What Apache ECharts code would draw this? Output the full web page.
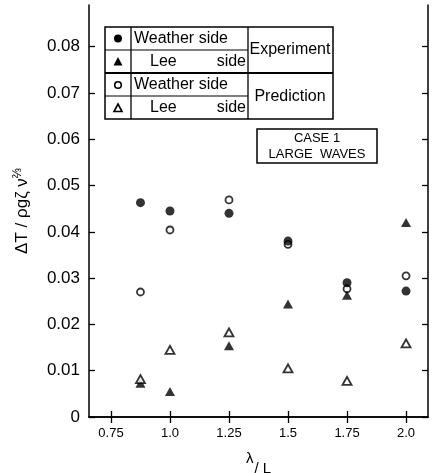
<!DOCTYPE html>
<html><head><meta charset="utf-8">
<script src="https://cdn.jsdelivr.net/npm/echarts@6/dist/echarts.min.js"></script>
<style>html,body{margin:0;padding:0;background:#fff}#c{width:441px;height:473px}</style>
</head><body><div id="c"></div>
<script>
const xValues = [0.875, 1.0, 1.25, 1.5, 1.75, 2.0];
const weatherExp  = [0.0463, 0.0445, 0.0440, 0.0380, 0.0290, 0.0272];
const leeExp      = [0.0073, 0.0055, 0.0154, 0.0244, 0.0263, 0.0420];
const weatherPred = [0.0270, 0.0404, 0.0469, 0.0373, 0.0277, 0.0305];
const leePred     = [0.0082, 0.0145, 0.0183, 0.0105, 0.0078, 0.0159];
const xTicks = [0.75, 1.0, 1.25, 1.5, 1.75, 2.0];
const xTickLabels = ['0.75', '1.0', '1.25', '1.5', '1.75', '2.0'];
const yTicks = [0, 0.01, 0.02, 0.03, 0.04, 0.05, 0.06, 0.07, 0.08];
const yTickLabels = ['0', '0.01', '0.02', '0.03', '0.04', '0.05', '0.06', '0.07', '0.08'];

const FONT = 'Liberation Sans';
const INK = '#000';
function lab(ticks, labels) {
  return v => { const i = ticks.findIndex(t => Math.abs(t - v) < 1e-6); return i < 0 ? '' : labels[i]; };
}
const pairs = arr => xValues.map((x, i) => [x, arr[i]]);

const chart = echarts.init(document.getElementById('c'), null, {renderer: 'canvas'});
const axisLine = {show: true, lineStyle: {color: INK, width: 1.5}};
const xMin = 0.657, xMax = 2.093, yMin = 0, yMax = 0.089;
chart.setOption({
  animation: false,
  backgroundColor: '#fff',
  grid: {left: 89, right: 13, top: 5, bottom: 56, containLabel: false, outerBoundsMode: 'none'},
  xAxis: [{
    type: 'value', min: xMin, max: xMax, position: 'bottom',
    axisLine: axisLine, splitLine: {show: false},
    axisTick: {show: true, inside: true, length: 6, customValues: xTicks, lineStyle: {color: INK, width: 1.3}},
    axisLabel: {customValues: xTicks, formatter: lab(xTicks, xTickLabels), color: INK, fontFamily: FONT, fontSize: 13, margin: 10},
    name: '{a|λ}{b|/ L}', nameLocation: 'middle', nameGap: 34,
    nameTextStyle: {rich: {
      a: {fontFamily: FONT, fontSize: 15, color: INK, verticalAlign: 'top', padding: [0, 1, 8, 0]},
      b: {fontFamily: FONT, fontSize: 15, color: INK, verticalAlign: 'bottom', padding: [10, 0, 0, 0]}
    }}
  }, {
    type: 'value', min: xMin, max: xMax, position: 'top',
    axisLine: axisLine, splitLine: {show: false},
    axisTick: {show: true, inside: true, length: 6, customValues: xTicks, lineStyle: {color: INK, width: 1.3}},
    axisLabel: {show: false}
  }],
  yAxis: [{
    type: 'value', min: yMin, max: yMax, position: 'left',
    axisLine: axisLine, splitLine: {show: false},
    axisTick: {show: true, inside: true, length: 6, customValues: yTicks, lineStyle: {color: INK, width: 1.3}},
    axisLabel: {customValues: yTicks, formatter: lab(yTicks, yTickLabels), color: INK, fontFamily: FONT, fontSize: 17, margin: 9},
    name: '{a|ΔT / ρgζ ν}{s|⅔}', nameLocation: 'middle', nameRotate: 90, nameGap: 57,
    nameTextStyle: {rich: {
      a: {fontFamily: FONT, fontSize: 17, color: INK},
      s: {fontFamily: FONT, fontSize: 12, color: INK, verticalAlign: 'top', padding: [0, 0, 8, 0]}
    }}
  }, {
    type: 'value', min: yMin, max: yMax, position: 'right',
    axisLine: axisLine, splitLine: {show: false},
    axisTick: {show: true, inside: true, length: 6, customValues: yTicks, lineStyle: {color: INK, width: 1.3}},
    axisLabel: {show: false}
  }],
  series: [
    {name: 'Weather side (Experiment)', type: 'scatter', data: pairs(weatherExp), symbol: 'circle', symbolSize: 9,
     itemStyle: {color: INK}, z: 3},
    {name: 'Lee side (Experiment)', type: 'scatter', data: pairs(leeExp), symbol: 'triangle', symbolSize: [10, 9],
     itemStyle: {color: INK}, z: 3},
    {name: 'Weather side (Prediction)', type: 'scatter', data: pairs(weatherPred), symbol: 'circle', symbolSize: 7,
     itemStyle: {color: '#fff', borderColor: INK, borderWidth: 1.8}, z: 2},
    {name: 'Lee side (Prediction)', type: 'scatter', data: pairs(leePred), symbol: 'triangle', symbolSize: [9, 8],
     itemStyle: {color: '#fff', borderColor: INK, borderWidth: 1.8}, z: 4}
  ],
  graphic: [
    // legend table
    {type: 'rect', shape: {x: 105, y: 27, width: 228, height: 92}, style: {fill: '#fff', stroke: INK, lineWidth: 1.5}, z: 10},
    {type: 'line', shape: {x1: 131, y1: 27, x2: 131, y2: 119}, style: {stroke: INK, lineWidth: 1.3}, z: 11},
    {type: 'line', shape: {x1: 248, y1: 27, x2: 248, y2: 119}, style: {stroke: INK, lineWidth: 1.3}, z: 11},
    {type: 'line', shape: {x1: 105, y1: 50, x2: 248, y2: 50}, style: {stroke: INK, lineWidth: 1.2}, z: 11},
    {type: 'line', shape: {x1: 105, y1: 73, x2: 333, y2: 73}, style: {stroke: INK, lineWidth: 1.8}, z: 11},
    {type: 'line', shape: {x1: 105, y1: 96, x2: 248, y2: 96}, style: {stroke: INK, lineWidth: 1.2}, z: 11},
    {type: 'circle', shape: {cx: 118, cy: 38.5, r: 4}, style: {fill: INK}, z: 11},
    {type: 'polygon', shape: {points: [[118, 57], [122.5, 65.5], [113.5, 65.5]]}, style: {fill: INK}, z: 11},
    {type: 'circle', shape: {cx: 118, cy: 85, r: 3.3}, style: {fill: '#fff', stroke: INK, lineWidth: 1.6}, z: 11},
    {type: 'polygon', shape: {points: [[118, 104], [122, 111.5], [114, 111.5]]}, style: {fill: '#fff', stroke: INK, lineWidth: 1.6}, z: 11},
    {type: 'text', style: {x: 134, y: 38.5, text: 'Weather side', font: '16px "Liberation Sans"', fill: INK, verticalAlign: 'middle'}, z: 11},
    {type: 'text', style: {x: 150, y: 62, text: 'Lee', font: '16px "Liberation Sans"', fill: INK, verticalAlign: 'middle'}, z: 11},
    {type: 'text', style: {x: 246, y: 62, text: 'side', font: '16px "Liberation Sans"', fill: INK, verticalAlign: 'middle', align: 'right'}, z: 11},
    {type: 'text', style: {x: 134, y: 85, text: 'Weather side', font: '16px "Liberation Sans"', fill: INK, verticalAlign: 'middle'}, z: 11},
    {type: 'text', style: {x: 150, y: 108, text: 'Lee', font: '16px "Liberation Sans"', fill: INK, verticalAlign: 'middle'}, z: 11},
    {type: 'text', style: {x: 246, y: 108, text: 'side', font: '16px "Liberation Sans"', fill: INK, verticalAlign: 'middle', align: 'right'}, z: 11},
    {type: 'text', style: {x: 290, y: 50, text: 'Experiment', font: '16px "Liberation Sans"', fill: INK, verticalAlign: 'middle', align: 'center'}, z: 11},
    {type: 'text', style: {x: 290, y: 97, text: 'Prediction', font: '16px "Liberation Sans"', fill: INK, verticalAlign: 'middle', align: 'center'}, z: 11},
    // case box
    {type: 'rect', shape: {x: 257, y: 129, width: 120, height: 34}, style: {fill: '#fff', stroke: INK, lineWidth: 1.5}, z: 10},
    {type: 'text', style: {x: 317, y: 138, text: 'CASE 1', font: '13px "Liberation Sans"', fill: INK, verticalAlign: 'middle', align: 'center'}, z: 11},
    {type: 'text', style: {x: 317, y: 154, text: 'LARGE  WAVES', font: '13px "Liberation Sans"', fill: INK, verticalAlign: 'middle', align: 'center'}, z: 11}
  ]
});
</script></body></html>
